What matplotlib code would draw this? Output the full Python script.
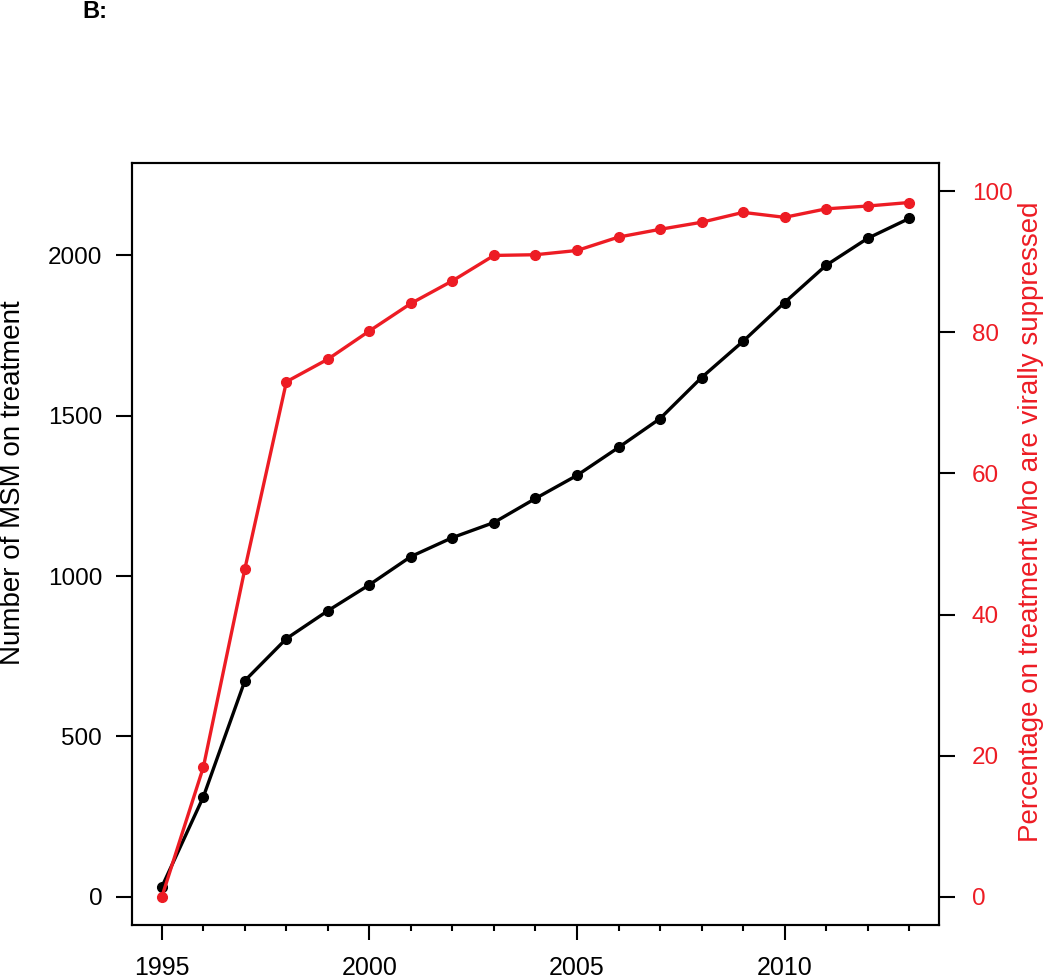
import numpy as np
import matplotlib.pyplot as plt
from matplotlib.ticker import MultipleLocator

plt.rcParams['font.family'] = ['Liberation Sans', 'DejaVu Sans']

years = list(range(1995, 2014))
on_treatment = [31, 312, 674, 805, 892, 973, 1061, 1120, 1167, 1242, 1314,
                1401, 1491, 1619, 1732, 1853, 1969, 2053, 2115]
pct_suppressed = [0.0, 18.4, 46.5, 73.0, 76.2, 80.2, 84.1, 87.3, 90.9, 91.0,
                  91.6, 93.5, 94.6, 95.6, 97.0, 96.3, 97.5, 97.9, 98.4]

red = '#ED1C24'
W, H = 1050, 980

fig = plt.figure(figsize=(W / 100, H / 100), dpi=100)
ax = fig.add_axes([132 / W, (H - 925) / H, (939 - 132) / W, (925 - 163) / H])
ax2 = ax.twinx()

ax.plot(years, on_treatment, color='black', lw=2.4, marker='o', ms=7,
        clip_on=False, zorder=3)
ax2.plot(years, pct_suppressed, color=red, lw=2.4, marker='o', ms=7,
         clip_on=False, zorder=3)

ax.set_xlim(1994.28, 2013.72)
ax.set_ylim(-88, 2288)
ax2.set_ylim(-4, 104)

ax.xaxis.set_major_locator(MultipleLocator(5))
ax.xaxis.set_minor_locator(MultipleLocator(1))
ax.set_yticks([0, 500, 1000, 1500, 2000])
ax2.set_yticks([0, 20, 40, 60, 80, 100])

ax.tick_params(axis='x', which='major', length=11, width=1.5, pad=11,
               labelsize=18)
ax.tick_params(axis='x', which='minor', length=4.5, width=1.5)
ax.tick_params(axis='y', length=11.5, width=1.5, pad=10, labelsize=17.5)
ax2.tick_params(axis='y', length=11.5, width=1.5, pad=12, labelsize=17.5,
                labelcolor=red)

for a in (ax, ax2):
    for s in a.spines.values():
        s.set_linewidth(1.5)
        s.set_color('black')

fig.text(13 / W, 1 - 483 / H, 'Number of MSM on treatment', rotation=90,
         ha='center', va='center', fontsize=20)
fig.text(1031 / W, 1 - 522 / H,
         'Percentage on treatment who are virally suppressed', rotation=90,
         ha='center', va='center', fontsize=20, color=red)
fig.text(82 / W, 1 - 0 / H, 'B:', fontsize=17, fontweight='bold',
         ha='left', va='top')

fig.savefig('out.png', dpi=100)
